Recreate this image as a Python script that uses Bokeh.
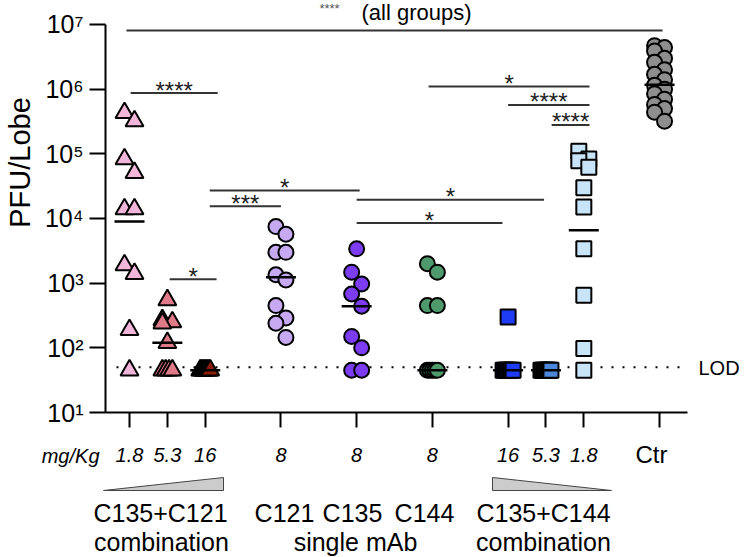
import numpy as np
from bokeh.plotting import figure
from bokeh.models import FixedTicker, Range1d
from bokeh.embed import file_html
from bokeh.resources import INLINE
from bokeh.core.properties import value

# ---------------- data ----------------
group_pos = [1, 2, 3, 5, 7, 9, 11, 12, 13, 15]
dose_labels = ["1.8", "5.3", "16", "8", "8", "8", "16", "5.3", "1.8", ""]
group_markers = ["triangle", "triangle", "triangle", "circle", "circle", "circle",
                 "square", "square", "square", "circle"]
group_sizes = [18, 18, 18, 15, 15, 15, 15, 15, 15, 15]
group_colors = ["#F2B5DA", "#E07A88", "#8A1C02", "#C7A9F2", "#7B3CF2", "#4E9A6C",
                "#1F3CF5", "#4C86D8", "#C8E4F8", "#8E8E8E"]

g_c135c121_18 = [430000, 320000, 83000, 51000, 14000, 14000, 1900, 1400, 190, 45]
g_c135c121_53 = [550, 270, 250, 240, 120, 45, 45, 45, 45]
g_c135c121_16 = [45, 45, 45, 45, 45, 45, 45, 45]
g_c121_8 = [7500, 5700, 3000, 3000, 1350, 1120, 450, 290, 240, 145]
g_c135_8 = [3400, 1480, 970, 680, 440, 150, 100, 45, 45]
g_c144_8 = [2000, 1480, 450, 450, 45, 45, 45, 45, 45]
g_c135c144_16 = [300, 45, 45, 45, 45, 45, 45, 45]
g_c135c144_53 = [45, 45, 45, 45, 45, 45, 45, 45]
g_c135c144_18 = [110000, 83000, 78000, 62000, 30000, 15000, 3400, 650, 98, 45]
g_ctr = [4700000, 4400000, 3900000, 3000000, 2600000, 2000000, 1700000, 1400000,
         1150000, 1000000, 850000, 700000, 580000, 500000, 440000, 320000]
group_values = [g_c135c121_18, g_c135c121_53, g_c135c121_16, g_c121_8, g_c135_8,
                g_c144_8, g_c135c144_16, g_c135c144_53, g_c135c144_18, g_ctr]
center_vals = [9000, 120, 45, 1230, 440, 45, 45, 45, 6600, 1170000]

LOD = 50
y_ticks = [10, 100, 1000, 10000, 100000, 1000000, 10000000]
y_tick_labels = ["10¹", "10²", "10³", "10⁴", "10⁵", "10⁶", "10⁷"]

sig_x0 = [1.03, 2.06, 3.12, 3.12, 7.0, 7.0, 8.9, 11.0, 12.15, 0.92]
sig_x1 = [3.33, 3.3, 7.08, 5.0, 11.95, 10.85, 13.15, 13.15, 13.15, 15.08]
sig_y = [870000, 1150, 27000, 15500, 19500, 8500, 1100000, 570000, 280000, 8070000]
sig_text = ["****", "*", "*", "***", "*", "*", "*", "****", "****", ""]

# ---------------- geometry helpers ----------------
W, H = 745, 557
PX_PER_UNIT = 37.86
PX_PER_DEC = 64.67
X0_PX = 129.0   # page x of group position 1
Y0_PX = 412.0   # page y of 10^1
FRAME_L, FRAME_R, FRAME_T = 105, 687, 0


def ux(px):
    return 1 + (px - X0_PX) / PX_PER_UNIT


def vy(py):
    return 10 ** (1 + (Y0_PX - py) / PX_PER_DEC)


def swarm(vals, half=5.0, near=16.0):
    vals = np.asarray(vals, float)
    py = np.log10(vals) * PX_PER_DEC
    order = np.argsort(-py, kind="stable")
    off = np.zeros(len(vals))
    blocks = []
    for idx in order:
        if blocks and abs(py[blocks[-1][-1]] - py[idx]) < 1.0:
            blocks[-1].append(idx)
        else:
            blocks.append([idx])
    prev = None
    for b in blocks:
        if len(b) > 1:
            off[b] = np.linspace(-half, half, len(b))
            prev = None
        else:
            i = b[0]
            if prev is not None and py[prev] - py[i] < near:
                if off[prev] == 0:
                    off[prev] = -half
                    off[i] = half
                else:
                    off[i] = -off[prev]
            prev = i
    return off / PX_PER_UNIT


FONT = "Liberation Sans"

p = figure(width=W, height=H, x_range=Range1d(ux(FRAME_L), ux(FRAME_R)),
           y_range=Range1d(10, vy(FRAME_T)), y_axis_type="log",
           output_backend="svg", toolbar_location=None, title=None,
           min_border_left=FRAME_L, min_border_right=W - FRAME_R,
           min_border_top=FRAME_T, min_border_bottom=H - int(Y0_PX))
p.outline_line_color = None
p.xgrid.visible = False
p.ygrid.visible = False
p.background_fill_color = "white"

# y axis
p.yaxis.ticker = FixedTicker(ticks=y_ticks, minor_ticks=[])
p.yaxis.major_label_overrides = {t: l for t, l in zip(y_ticks, y_tick_labels)}
p.yaxis.bounds = (10, 10000000)
p.yaxis.axis_line_width = 2
p.yaxis.major_tick_line_width = 2
p.yaxis.major_tick_in = 0
p.yaxis.major_tick_out = 16
p.yaxis.minor_tick_line_color = None
p.yaxis.major_label_text_font = FONT
p.yaxis.major_label_text_font_size = "25px"
p.yaxis.major_label_text_color = "black"
p.yaxis.major_label_standoff = 6

# x axis
p.xaxis.ticker = FixedTicker(ticks=group_pos, minor_ticks=[])
p.xaxis.major_label_overrides = {t: l for t, l in zip(group_pos, dose_labels)}
p.xaxis.axis_line_width = 2
p.xaxis.major_tick_line_width = 2
p.xaxis.major_tick_in = 0
p.xaxis.major_tick_out = 15
p.xaxis.minor_tick_line_color = None
p.xaxis.major_label_text_font = FONT
p.xaxis.major_label_text_font_style = "italic"
p.xaxis.major_label_text_font_size = "20px"
p.xaxis.major_label_text_color = "black"
p.xaxis.major_label_standoff = 20

# LOD dotted line
p.segment(x0=[ux(116)], x1=[ux(682)], y0=[LOD], y1=[LOD], line_color="black",
          line_width=2, line_dash="2 9")

# points
for pos, vals, mk, sz, col in zip(group_pos, group_values, group_markers,
                                  group_sizes, group_colors):
    xs = pos + swarm(vals)
    p.scatter(x=xs, y=vals, marker=mk, size=sz, fill_color=col,
              line_color="black", line_width=2)

# centre lines
half_w = 15 / PX_PER_UNIT
p.segment(x0=[g - half_w for g in group_pos], x1=[g + half_w for g in group_pos],
          y0=center_vals, y1=center_vals, line_color="black", line_width=2.5)

# significance bars
p.segment(x0=sig_x0, x1=sig_x1, y0=sig_y, y1=sig_y, line_color="#333333",
          line_width=2)
mids = [(a + b) / 2 for a, b in zip(sig_x0, sig_x1)]
txt_y = [y * 10 ** (3.0 / PX_PER_DEC) for y in sig_y]
p.text(x=mids, y=txt_y, text=sig_text, text_align="center",
       text_baseline="alphabetic", text_font=value(FONT),
       text_font_size="24px", text_color="#222222")


def add_text(t, xpx, ypx, size, align="center", style="normal", color="black",
             angle=0.0):
    p.text(x=[ux(xpx)], y=[vy(ypx)], text=[t], text_align=align,
           text_baseline="middle", text_font=value(FONT), text_font_size=size,
           text_font_style=style, text_color=color, angle=angle, level="overlay")


# top text
add_text("****", 329, 8, "13px", color="#555555")
add_text("(all groups)", 416, 12, "22px")

# y axis title
add_text("PFU/Lobe", 19, 162, "29px", angle=np.pi / 2)

# LOD label
add_text("LOD", 698, 367, "20px", align="left")

# mg/Kg and Ctr
add_text("mg/Kg", 99, 455, "20px", align="right", style="italic")
add_text("Ctr", 651, 454, "24px")

# dose wedges
p.patch(x=[ux(103), ux(223), ux(223)], y=[vy(490), vy(490), vy(477)],
        fill_color="#CCCCCC", line_color="#444444", line_width=1, level="overlay")
p.patch(x=[ux(492), ux(492), ux(611)], y=[vy(477), vy(490), vy(490)],
        fill_color="#CCCCCC", line_color="#444444", line_width=1, level="overlay")

# group names
names = [("C135+C121", 160, 512), ("combination", 161, 541),
         ("C121", 284, 512), ("C135", 352, 512), ("C144", 424, 512),
         ("single mAb", 355, 541),
         ("C135+C144", 543, 512), ("combination", 543, 541)]
for t, xpx, ypx in names:
    add_text(t, xpx, ypx, "25px")

open("out.html", "w").write(file_html(p, INLINE))
